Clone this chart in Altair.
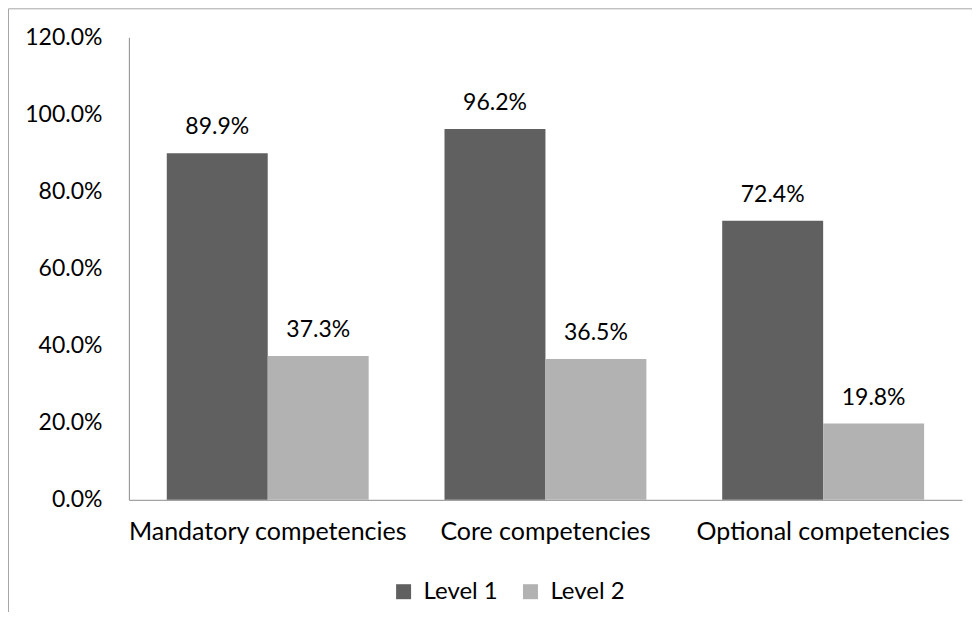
import altair as alt
import pandas as pd

categories = ["Mandatory competencies", "Core competencies", "Optional competencies"]
levels = ["Level 1", "Level 2"]
level1 = [0.899, 0.962, 0.724]
level2 = [0.373, 0.365, 0.198]
y_ticks = [0.0, 0.2, 0.4, 0.6, 0.8, 1.0, 1.2]
colors = ["#606060", "#b2b2b2"]

rows = []
for c, a, b in zip(categories, level1, level2):
    rows.append({"category": c, "level": levels[0], "value": a})
    rows.append({"category": c, "level": levels[1], "value": b})
df = pd.DataFrame(rows)

FONT = "Lato"
FS = 23
W, H = 834, 463
AXIS_COLOR = "#8c8c8c"

x = alt.X(
    "category:N",
    sort=categories,
    scale=alt.Scale(paddingInner=0.273, paddingOuter=0.1365),
    axis=alt.Axis(
        title=None, labelAngle=0, domainColor=AXIS_COLOR, ticks=False,
        labelPadding=40, labelBaseline="alphabetic", labelFontSize=25,
        labelFont=FONT, labelColor="#000000", labelLimit=400,
    ),
)
xo = alt.XOffset("level:N", sort=levels, scale=alt.Scale(paddingInner=0, paddingOuter=0))
y = alt.Y(
    "value:Q",
    scale=alt.Scale(domain=[0, 1.2], nice=False),
    axis=alt.Axis(
        title=None, format=".1%", values=y_ticks, grid=False, ticks=False,
        labelPadding=27, domainColor=AXIS_COLOR, labelFontSize=FS,
        labelFont=FONT, labelColor="#000000",
    ),
)

color = alt.Color(
    "level:N",
    scale=alt.Scale(domain=levels, range=colors),
    legend=alt.Legend(
        title=None, orient="none", direction="horizontal",
        legendX=263, legendY=543, symbolType="square", symbolSize=225,
        symbolStrokeWidth=0, symbolOpacity=1, labelFontSize=24, labelFont=FONT,
        labelColor="#000000", labelOffset=8, columnPadding=20,
    ),
)

bars = alt.Chart(df).mark_bar().encode(x=x, xOffset=xo, y=y, color=color)

labels = alt.Chart(df).mark_text(
    baseline="alphabetic", dy=-19, fontSize=FS, font=FONT, color="#000000"
).encode(
    x=x, xOffset=xo, y=y, text=alt.Text("value:Q", format=".1%")
)

frame_df = pd.DataFrame({"k": [0]})
left_border = alt.Chart(frame_df).mark_rule(color="#a6a6a6", strokeWidth=1).encode(
    x=alt.value(-120.5), y=alt.value(-28.5), y2=alt.value(H + 130)
)
top_border = alt.Chart(frame_df).mark_rule(color="#a6a6a6", strokeWidth=1).encode(
    x=alt.value(-120.5), x2=alt.value(W + 40), y=alt.value(-28.5)
)

chart = alt.layer(bars, labels, left_border, top_border).properties(
    width=W, height=H,
    autosize=alt.AutoSizeParams(type="none"),
    padding={"left": 121, "top": 29, "right": 10, "bottom": 112},
).configure_view(stroke=None)

chart.save("out.html", embed_options={"renderer": "svg", "actions": False})
